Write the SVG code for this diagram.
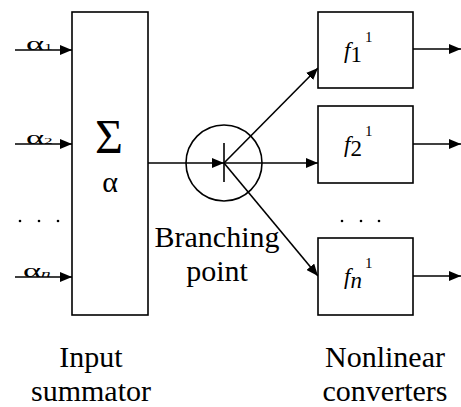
<svg xmlns="http://www.w3.org/2000/svg" width="461" height="407" viewBox="0 0 461 407">
<defs>
<style>
.box{fill:#fff;stroke:#000;stroke-width:1.6}
.ln{fill:none;stroke:#000;stroke-width:1.6}
.t{font-family:'Liberation Serif','Times New Roman','DejaVu Serif',serif}
.lbl{font-size:30px;text-anchor:middle}
.f{font-size:23px}
.sup{font-size:15px}
</style>
<marker id="ah" viewBox="0 0 12 10" refX="12" refY="5" markerWidth="12" markerHeight="10" markerUnits="userSpaceOnUse" orient="auto">
<path d="M0,0 L12,5 L0,10 Z" fill="#000"/>
</marker>
</defs>
<rect width="461" height="407" fill="#fff"/>
<g id="connectors">
<line class="ln" x1="15" y1="50" x2="72" y2="50" marker-end="url(#ah)"/>
<line class="ln" x1="15" y1="144" x2="72" y2="144" marker-end="url(#ah)"/>
<line class="ln" x1="15" y1="277" x2="72" y2="277" marker-end="url(#ah)"/>
<line class="ln" x1="148" y1="163" x2="224" y2="163" marker-end="url(#ah)"/>
<line class="ln" x1="224" y1="163" x2="318" y2="68" marker-end="url(#ah)"/>
<line class="ln" x1="224" y1="163" x2="318" y2="163" marker-end="url(#ah)"/>
<line class="ln" x1="224" y1="163" x2="318" y2="276" marker-end="url(#ah)"/>
<line class="ln" x1="413" y1="49" x2="461" y2="49" marker-end="url(#ah)"/>
<line class="ln" x1="413" y1="144" x2="461" y2="144" marker-end="url(#ah)"/>
<line class="ln" x1="413" y1="276" x2="461" y2="276" marker-end="url(#ah)"/>
</g>
<g id="inputs">
<g transform="translate(26,50) scale(1.15,0.6)"><text class="t"><tspan font-size="30">α</tspan><tspan font-size="15">1</tspan></text></g>
<g transform="translate(26,144) scale(1.15,0.6)"><text class="t"><tspan font-size="30">α</tspan><tspan font-size="15">2</tspan></text></g>
<g transform="translate(23,277) scale(1.15,0.6)"><text class="t"><tspan font-size="30">α</tspan><tspan font-size="17" font-style="italic">n</tspan></text></g>
<circle cx="20" cy="221" r="1.3"/>
<circle cx="39" cy="221" r="1.3"/>
<circle cx="58" cy="221" r="1.3"/>
</g>
<g id="summator">
<rect class="box" x="72" y="12" width="76" height="303"/>
<text class="t" x="109" y="153" font-size="48" text-anchor="middle">Σ</text>
<text class="t" x="110" y="192" font-size="30" text-anchor="middle">α</text>
</g>
<g id="branching-point">
<circle class="ln" cx="224" cy="163" r="38"/>
<line class="ln" x1="224" y1="143" x2="224" y2="182"/>
<text class="t lbl" x="217" y="247">Branching</text>
<text class="t lbl" x="217" y="281">point</text>
</g>
<g id="f1">
<rect class="box" x="318" y="12" width="95" height="76"/>
<text class="t" x="344" y="58"><tspan class="f" font-style="italic">f</tspan><tspan class="f" dy="4">1</tspan><tspan class="sup" dx="3" dy="-20">1</tspan></text>
</g>
<g id="f2">
<rect class="box" x="318" y="106" width="95" height="77"/>
<text class="t" x="344" y="152"><tspan class="f" font-style="italic">f</tspan><tspan class="f" dy="4">2</tspan><tspan class="sup" dx="3" dy="-20">1</tspan></text>
</g>
<g id="fn">
<rect class="box" x="318" y="238" width="95" height="77"/>
<text class="t" x="344" y="284"><tspan class="f" font-style="italic">f</tspan><tspan class="f" dy="4" font-style="italic">n</tspan><tspan class="sup" dx="3" dy="-20">1</tspan></text>
<circle cx="342" cy="221" r="1.3"/>
<circle cx="361" cy="221" r="1.3"/>
<circle cx="379" cy="221" r="1.3"/>
</g>
<g id="labels">
<text class="t lbl" x="91" y="367">Input</text>
<text class="t lbl" x="91" y="401">summator</text>
<text class="t lbl" x="385" y="367">Nonlinear</text>
<text class="t lbl" x="385" y="401">converters</text>
</g>
</svg>
